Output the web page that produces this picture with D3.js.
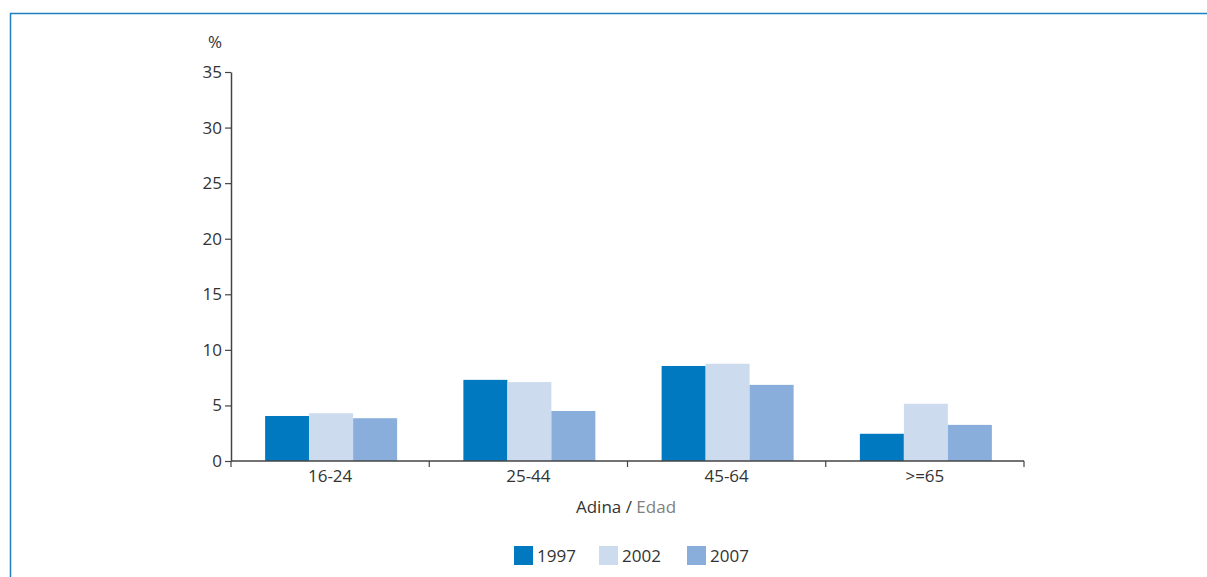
<!DOCTYPE html>
<html>
<head>
<meta charset="utf-8">
<script src="https://cdn.jsdelivr.net/npm/d3@7"></script>
<style>
  body { margin: 0; background: #fff; }
  svg { display: block; font-family: "Open Sans", "Noto Sans", sans-serif; }
</style>
</head>
<body>
<script>
//chart data
var categories = ["16-24", "25-44", "45-64", ">=65"];
var years = ["1997", "2002", "2007"];
var values1997 = [4.05, 7.3, 8.55, 2.45];
var values2002 = [4.3, 7.1, 8.75, 5.15];
var values2007 = [3.85, 4.5, 6.85, 3.25];
var yTicks = [0, 5, 10, 15, 20, 25, 30, 35];
var colors = ["#0079c1", "#ccdcee", "#8aaedc"];

(function(){
var series = [values1997, values2002, values2007];
var fontSize = 17;

var width = 1207, height = 577;
var svg = d3.select("body").append("svg")
    .attr("width", width)
    .attr("height", height);

//frame
svg.append("path")
    .attr("d", "M10.5," + height + " V13.5 H" + width)
    .attr("fill", "none")
    .attr("stroke", "#1f7fc0")
    .attr("stroke-width", 1.5);

var chartLeft = 231, chartRight = 1024, chartTop = 72, chartBottom = 461;

var x = d3.scaleBand().domain(categories).range([chartLeft, chartRight]).padding(0);
var xInner = d3.scaleBand().domain(years).range([0, 132]);
var y = d3.scaleLinear().domain([0, 35]).range([chartBottom, chartTop]);

//bars
categories.forEach(function(c, i){
    var gx = x(c) + (x.bandwidth() - 132) / 2 + 1;
    series.forEach(function(vals, j){
        svg.append("rect")
            .attr("x", gx + xInner(years[j]))
            .attr("y", y(vals[i]))
            .attr("width", xInner.bandwidth())
            .attr("height", chartBottom - y(vals[i]))
            .attr("fill", colors[j]);
    });
});

//y axis
var yAxis = svg.append("g")
    .attr("transform", "translate(" + chartLeft + ",0)")
    .call(d3.axisLeft(y).tickValues(yTicks).tickSize(6).tickSizeOuter(0).tickPadding(3));
yAxis.selectAll("text").attr("font-size", fontSize).attr("fill", "#333").attr("font-family", "Open Sans, sans-serif");
yAxis.select(".domain").attr("stroke", "#444").attr("stroke-width", 1.5);
yAxis.selectAll(".tick line").attr("stroke", "#444").attr("stroke-width", 1.2);

//x axis with ticks at category boundaries
var xAxis = svg.append("g")
    .attr("transform", "translate(0," + chartBottom + ")");
xAxis.append("line")
    .attr("x1", chartLeft).attr("x2", chartRight)
    .attr("stroke", "#444").attr("stroke-width", 1.5);
var bounds = categories.map(function(c){ return x(c); }).concat([chartRight]);
xAxis.selectAll(".xt").data(bounds).enter().append("line")
    .attr("x1", function(d){ return d; }).attr("x2", function(d){ return d; })
    .attr("y1", 0).attr("y2", 6)
    .attr("stroke", "#444").attr("stroke-width", 1.2);
xAxis.selectAll(".xl").data(categories).enter().append("text")
    .attr("x", function(d){ return x(d) + x.bandwidth() / 2; })
    .attr("y", 21)
    .attr("text-anchor", "middle")
    .attr("font-size", fontSize)
    .attr("fill", "#333")
    .text(function(d){ return d; });

//unit label
svg.append("text")
    .attr("x", 215).attr("y", 48)
    .attr("text-anchor", "middle")
    .attr("font-size", fontSize).attr("fill", "#333")
    .text("%");

//x title
var xt = svg.append("text")
    .attr("x", 626).attr("y", 513)
    .attr("text-anchor", "middle")
    .attr("font-size", fontSize).attr("fill", "#333");
xt.append("tspan").text("Adina / ");
xt.append("tspan").attr("fill", "#808080").text("Edad");

//legend
var legendX = [514, 599, 687];
years.forEach(function(yr, j){
    var g = svg.append("g").attr("transform", "translate(" + legendX[j] + ",546)");
    g.append("rect").attr("width", 19).attr("height", 19).attr("fill", colors[j]);
    g.append("text").attr("x", 23).attr("y", 16)
        .attr("font-size", fontSize).attr("fill", "#333").text(yr);
});
})();
</script>
</body>
</html>
